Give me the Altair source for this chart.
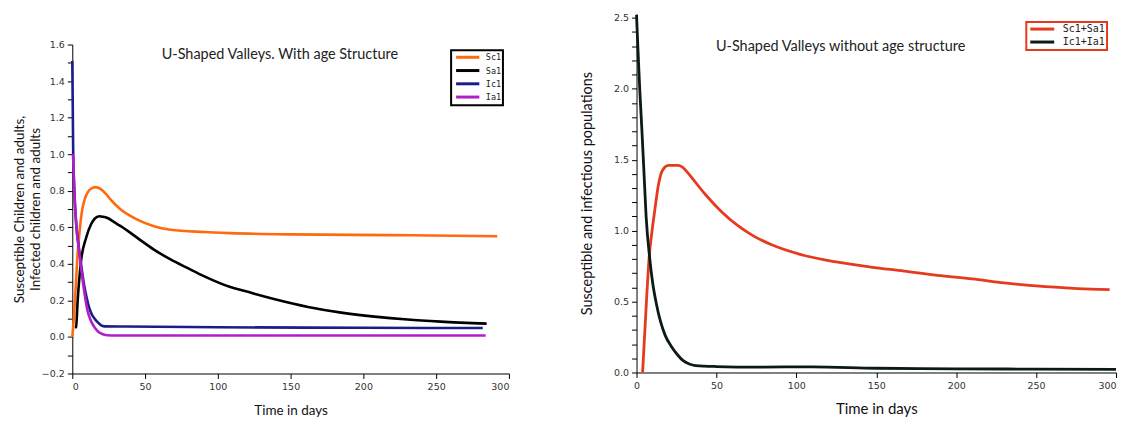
import altair as alt
import pandas as pd

# ---------------- Left panel data (with age structure) ----------------
left_names = ["Sc1", "Sa1", "Ic1", "Ia1"]
left_colors = ["#ff6a0e", "#000000", "#1c1c8c", "#b01ec8"]

t_sc1 = [0, 1.2, 2.5, 3.6, 4.8, 6.5, 8.2, 10.5, 13, 16, 19.4, 22.8, 26.5, 33.3, 44.7, 56.1, 67.5, 90.4, 108.6, 150.6, 219, 292]
v_sc1 = [0.0, 0.12, 0.29, 0.45, 0.56, 0.68, 0.745, 0.79, 0.812, 0.82, 0.81, 0.785, 0.75, 0.697, 0.642, 0.606, 0.587, 0.574, 0.568, 0.561, 0.557, 0.551]

t_sa1 = [1.85, 2.6, 3.7, 6, 9.4, 12.8, 15.5, 18.5, 21, 24.2, 28, 33.3, 44.7, 56.1, 67.5, 79, 90.4, 108.6, 118.6, 139.2, 162, 184.8, 207.6, 230.4, 253.2, 284.7]
v_sa1 = [0.051, 0.055, 0.2, 0.415, 0.54, 0.615, 0.648, 0.66, 0.658, 0.651, 0.632, 0.606, 0.542, 0.478, 0.424, 0.378, 0.333, 0.273, 0.251, 0.206, 0.164, 0.133, 0.111, 0.095, 0.084, 0.073]

t_ic1 = [0, 0.6, 1.4, 2.7, 4.8, 6.5, 8.2, 10, 11.6, 13.3, 15.1, 17.5, 19.6, 21.9, 36, 100, 200, 282]
v_ic1 = [1.51, 1.02, 0.8, 0.62, 0.47, 0.37, 0.28, 0.21, 0.16, 0.125, 0.102, 0.08, 0.065, 0.058, 0.057, 0.053, 0.05, 0.049]

t_ia1 = [0.5, 1.4, 2.7, 4.8, 6.5, 8.2, 10.5, 12.2, 14, 16, 18.5, 21, 24.2, 30, 100, 200, 284]
v_ia1 = [1.0, 0.8, 0.615, 0.46, 0.35, 0.25, 0.142, 0.1, 0.069, 0.045, 0.024, 0.015, 0.009, 0.0075, 0.0075, 0.0075, 0.0075]

# ---------------- Right panel data (without age structure) ----------------
right_names = ["Sc1+Sa1", "Ic1+Ia1"]
right_colors = ["#e63a1e", "#0b1a14"]

t_s = [3.8, 6.2, 7.9, 9.5, 11.5, 13.5, 15.6, 17.5, 19.8, 26, 28.5, 31.2, 35.4, 42.7, 53, 63.4, 73.9, 84.2, 105, 125.8, 146.6, 167.4, 188.2, 210, 230, 250, 276, 296]
v_s = [0.0, 0.5, 0.81, 0.98, 1.15, 1.31, 1.41, 1.445, 1.46, 1.46, 1.45, 1.42, 1.362, 1.26, 1.135, 1.035, 0.958, 0.902, 0.825, 0.778, 0.743, 0.715, 0.685, 0.66, 0.632, 0.61, 0.592, 0.584]

t_i = [0, 1, 2, 3.4, 4.5, 6, 8.2, 10, 12.5, 15, 18, 22, 26, 29, 33, 37, 50, 75, 110, 150, 200, 250, 300]
v_i = [2.52, 2.25, 2.0, 1.7, 1.45, 1.1, 0.81, 0.64, 0.48, 0.36, 0.26, 0.18, 0.12, 0.085, 0.06, 0.049, 0.042, 0.038, 0.04, 0.03, 0.026, 0.024, 0.022]

left_title = "U-Shaped Valleys. With age Structure"
right_title = "U-Shaped Valleys without age structure"


def frame(name, t, v):
    return pd.DataFrame({"t": t, "v": v, "series": name})


left_df = pd.concat([frame("Sc1", t_sc1, v_sc1), frame("Sa1", t_sa1, v_sa1),
                     frame("Ic1", t_ic1, v_ic1), frame("Ia1", t_ia1, v_ia1)])
right_df = pd.concat([frame("Sc1+Sa1", t_s, v_s), frame("Ic1+Ia1", t_i, v_i)])

LBL_FONT = "DejaVu Sans"
TTL_FONT = "Lato"
x_vals = [0, 50, 100, 150, 200, 250, 300]

axis_common = dict(grid=False, domainColor="#000000", tickColor="#000000", tickSize=5,
                   labelFont=LBL_FONT, labelFontSize=9.5, labelColor="#333333",
                   labelOverlap=False, labelPadding=3, tickCount=100,
                   titleFont=TTL_FONT, titleFontWeight="normal", titleColor="#111111")

# ---------------- Left chart ----------------
left_y_vals = [round(-0.2 + 0.1 * i, 1) for i in range(19)]
left_lines = alt.Chart(left_df).mark_line(strokeWidth=2.6, interpolate="monotone").encode(
    x=alt.X("t:Q", scale=alt.Scale(domain=[0, 300], nice=False),
            axis=alt.Axis(values=x_vals, title="Time in days", titleFontSize=13.5,
                          titlePadding=13, **axis_common)),
    y=alt.Y("v:Q", scale=alt.Scale(domain=[-0.2, 1.6], nice=False),
            axis=alt.Axis(values=left_y_vals,
                          labelExpr="abs(round(datum.value*10)) % 2 == 0 ? format(datum.value, '.1f') : ''",
                          title=["Susceptible Children and adults,", "Infected children and adults"],
                          titleFontSize=13.5, titleLineHeight=16.5, titlePadding=-1.5,
                          **axis_common)),
    color=alt.Color("series:N", scale=alt.Scale(domain=left_names, range=left_colors),
                    sort=left_names,
                    legend=alt.Legend(title=None, orient="none", legendX=380, legendY=36.8,
                                      strokeColor="#000000", fillColor="#ffffff", padding=1.5,
                                      symbolType="M-0.5,0L5.33,0", symbolStrokeWidth=3,
                                      symbolSize=64, labelFont="DejaVu Sans Mono",
                                      labelFontSize=8.5, labelColor="#222222",
                                      rowPadding=0.3, labelOffset=22.3)),
)
left_text = alt.Chart().mark_text(font=TTL_FONT, fontSize=14.5, color="#222222").encode(
    x=alt.datum(142.6), y=alt.datum(1.544), text=alt.value(left_title))

left_main = alt.layer(left_lines, left_text).properties(width=438, height=330)

spacer = alt.Chart(pd.DataFrame({"s": [0]})).mark_point(opacity=0, size=0).encode(
    x=alt.value(200), y=alt.value(13)).properties(width=438, height=26)

left = alt.vconcat(spacer, left_main, spacing=0)

# ---------------- Right chart ----------------
right_y_vals = [round(0.1 * i, 1) for i in range(26)]
right_lines = alt.Chart(right_df).mark_line(strokeWidth=2.8, interpolate="monotone").encode(
    x=alt.X("t:Q", scale=alt.Scale(domain=[0, 300], nice=False),
            axis=alt.Axis(values=x_vals, title="Time in days", titleFontSize=15,
                          titlePadding=12,
                          labelAlign={"condition": {"test": "datum.value == 300", "value": "right"},
                                      "value": "center"},
                          **axis_common)),
    y=alt.Y("v:Q", scale=alt.Scale(domain=[0, 2.53], nice=False),
            axis=alt.Axis(values=right_y_vals,
                          labelExpr="round(datum.value*10) % 5 == 0 ? format(datum.value, '.1f') : ''",
                          title="Susceptible  and infectious populations",
                          titleFontSize=14.5, titlePadding=19, **axis_common)),
    color=alt.Color("series:N", scale=alt.Scale(domain=right_names, range=right_colors),
                    sort=right_names,
                    legend=alt.Legend(title=None, orient="none", legendX=391, legendY=8.5,
                                      strokeColor="#e63a1e", fillColor="#ffffff", padding=1.5,
                                      symbolType="M-0.75,0L5.25,0", symbolStrokeWidth=3,
                                      symbolSize=64, labelFont="DejaVu Sans Mono",
                                      labelFontSize=10, labelColor="#222222",
                                      rowPadding=0, labelOffset=24)),
)
right_text = alt.Chart().mark_text(font=TTL_FONT, fontSize=14.5, color="#222222").encode(
    x=alt.datum(127.7), y=alt.datum(2.296), text=alt.value(right_title))

right = alt.layer(right_lines, right_text).properties(width=481, height=360)

chart = alt.hconcat(left, right, spacing=69).resolve_scale(
    color="independent", x="independent", y="independent").resolve_legend(
    color="independent").configure(
    padding={"left": 3.5, "top": 0, "right": 0, "bottom": 0}, background="#ffffff"
).configure_view(stroke=None).configure_legend(
    strokeWidth=2, symbolSize=64, symbolStrokeWidth=3, rowPadding=0)

chart.save("out.html", embed_options={"renderer": "svg", "actions": False})
